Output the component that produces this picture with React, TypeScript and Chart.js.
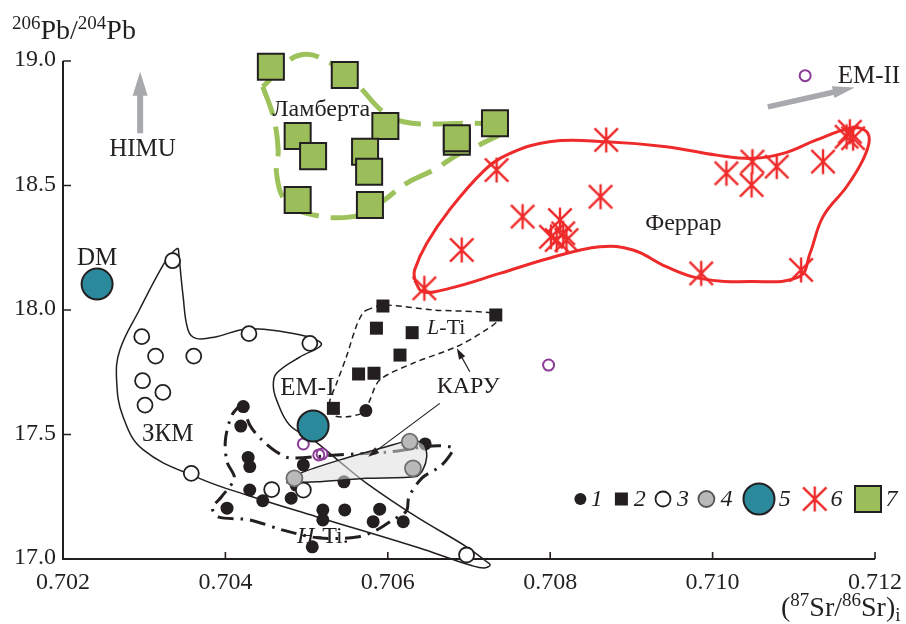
import { useEffect, useRef } from "react";
import { Chart, registerables } from "chart.js";
Chart.register(...registerables);

type P = [number, number];

const X_MIN = 0.702;
const X_MAX = 0.712;
const Y_MIN = 17.0;
const Y_MAX = 19.0;
const xTicks = [0.702, 0.704, 0.706, 0.708, 0.71, 0.712];
const xTickLabels = ["0.702", "0.704", "0.706", "0.708", "0.710", "0.712"];
const yTicks = [17.0, 17.5, 18.0, 18.5, 19.0];
const yTickLabels = ["17.0", "17.5", "18.0", "18.5", "19.0"];

// 1 – black dots
const blackDots: P[] = [
  [0.70573, 17.596], [0.70422, 17.612], [0.70419, 17.534], [0.70428, 17.408],
  [0.7043, 17.371], [0.70496, 17.378], [0.70487, 17.297], [0.7043, 17.277],
  [0.70446, 17.234], [0.70481, 17.244], [0.70402, 17.204], [0.7052, 17.197],
  [0.70547, 17.197], [0.7059, 17.2], [0.7052, 17.157], [0.70582, 17.15],
  [0.70619, 17.15], [0.70646, 17.462], [0.70507, 17.049], [0.70546, 17.31],
];
// 2 – black squares
const blackSquares: P[] = [
  [0.70594, 18.016], [0.70586, 17.927], [0.7063, 17.909], [0.70615, 17.819],
  [0.70564, 17.743], [0.70583, 17.746], [0.70533, 17.605], [0.70733, 17.98],
];
// 3 – open circles
const openCircles: P[] = [
  [0.70335, 18.198], [0.70297, 17.893], [0.70314, 17.815], [0.70361, 17.815],
  [0.70298, 17.716], [0.70323, 17.669], [0.70301, 17.618], [0.70429, 17.905],
  [0.70504, 17.866], [0.70358, 17.344], [0.70457, 17.279], [0.70496, 17.277],
  [0.70697, 17.016],
];
// 4 – grey circles
const greyCircles: P[] = [
  [0.70485, 17.324], [0.70627, 17.471], [0.70631, 17.364],
];
// 5 – mantle components (DM, EM-I)
const mantle: P[] = [
  [0.70242, 18.104], [0.70508, 17.534],
];
// purple small circles
const purpleCircles: P[] = [
  [0.70496, 17.462], [0.70515, 17.418], [0.70519, 17.422], [0.70798, 17.779], [0.71114, 18.941],
];
// 6 – Ferrar
const ferrar: P[] = [
  [0.70645, 18.087], [0.70691, 18.241], [0.70734, 18.562], [0.70766, 18.375],
  [0.70869, 18.683], [0.70862, 18.455], [0.70812, 18.361], [0.70816, 18.308],
  [0.70808, 18.281], [0.70801, 18.294], [0.7082, 18.281], [0.70986, 18.147],
  [0.71109, 18.161], [0.71017, 18.549], [0.71049, 18.596], [0.71048, 18.502],
  [0.71079, 18.576], [0.71136, 18.596], [0.71165, 18.696], [0.71169, 18.716],
  [0.71173, 18.69],
];
// 7 – Lambert
const lambert: P[] = [
  [0.70456, 18.977], [0.70547, 18.944], [0.70597, 18.739], [0.70489, 18.699],
  [0.70508, 18.618], [0.70572, 18.636], [0.70577, 18.555], [0.70685, 18.676],
  [0.70685, 18.69], [0.70732, 18.75], [0.70489, 18.442], [0.70578, 18.422],
];

// field outlines
const zkmField: P[] = [
  [0.70342, 18.248], [0.70348, 18.053], [0.70354, 17.92], [0.70364, 17.886],
  [0.70389, 17.893], [0.70426, 17.924], [0.70471, 17.913], [0.70508, 17.886],
  [0.70518, 17.859], [0.70492, 17.812], [0.70463, 17.746], [0.70459, 17.699],
  [0.70463, 17.639], [0.70479, 17.538], [0.70508, 17.478], [0.70541, 17.39],
  [0.70574, 17.304], [0.70635, 17.17], [0.70697, 17.049], [0.70719, 16.996],
  [0.70726, 16.976], [0.70718, 16.964], [0.70701, 16.976], [0.70682, 16.996],
  [0.70639, 17.044], [0.70512, 17.17], [0.7043, 17.253], [0.70368, 17.324],
  [0.70299, 17.438], [0.70274, 17.571], [0.70266, 17.719], [0.7027, 17.839],
  [0.70294, 18.0], [0.70327, 18.201], [0.70338, 18.241], [0.70342, 18.248],
];
const lowTiField: P[] = [
  [0.70574, 18.0], [0.70594, 18.02], [0.70656, 18.0], [0.7073, 17.987],
  [0.70736, 17.96], [0.70721, 17.92], [0.70685, 17.853], [0.70631, 17.786],
  [0.7059, 17.719], [0.70578, 17.639], [0.70572, 17.592], [0.70549, 17.571],
  [0.70533, 17.578], [0.70528, 17.625], [0.70537, 17.706], [0.70549, 17.812],
  [0.70561, 17.933], [0.70569, 17.987], [0.70574, 18.0],
];
const highTiField: P[] = [
  [0.70421, 17.627], [0.70408, 17.578], [0.704, 17.478], [0.70402, 17.39],
  [0.70411, 17.325], [0.70395, 17.249], [0.70384, 17.205], [0.70391, 17.169],
  [0.7043, 17.157], [0.70471, 17.116], [0.70516, 17.084], [0.70562, 17.088],
  [0.70586, 17.116], [0.70606, 17.157], [0.70623, 17.193], [0.70626, 17.249],
  [0.70642, 17.325], [0.70664, 17.37], [0.70675, 17.41], [0.7068, 17.446],
  [0.70655, 17.454], [0.70602, 17.43], [0.70537, 17.418], [0.70479, 17.406],
  [0.70463, 17.43], [0.70445, 17.478], [0.7043, 17.538], [0.70421, 17.627],
];
const karooField: P[] = [
  [0.70475, 17.306], [0.70492, 17.344], [0.70541, 17.398], [0.70598, 17.451],
  [0.70631, 17.478], [0.70645, 17.458], [0.70648, 17.411], [0.70643, 17.357],
  [0.70635, 17.331], [0.70574, 17.324], [0.70512, 17.31], [0.70475, 17.306],
];
const ferrarField: P[] = [
  [0.70633, 18.12], [0.70643, 18.073], [0.70676, 18.087], [0.70738, 18.147],
  [0.70799, 18.208], [0.70861, 18.254], [0.70902, 18.241], [0.70943, 18.174],
  [0.70984, 18.127], [0.71046, 18.114], [0.71107, 18.134], [0.7112, 18.228],
  [0.71136, 18.375], [0.71165, 18.495], [0.71185, 18.602], [0.71193, 18.683],
  [0.71187, 18.723], [0.71169, 18.73], [0.71128, 18.683], [0.71087, 18.629],
  [0.7105, 18.609], [0.71005, 18.622], [0.70943, 18.656], [0.70869, 18.676],
  [0.70799, 18.676], [0.70746, 18.622], [0.70717, 18.555], [0.70676, 18.402],
  [0.70648, 18.268], [0.70633, 18.161], [0.70633, 18.12],
];
const lambertField: P[] = [
  [0.70446, 18.897], [0.70459, 18.776], [0.70465, 18.643], [0.70463, 18.549],
  [0.70473, 18.442], [0.705, 18.388], [0.70557, 18.375], [0.7059, 18.429],
  [0.70623, 18.509], [0.70656, 18.562], [0.70689, 18.629], [0.70713, 18.663],
  [0.7075, 18.736], [0.70705, 18.75], [0.70664, 18.747], [0.70619, 18.756],
  [0.70594, 18.796], [0.70565, 18.897], [0.70541, 18.971], [0.70492, 19.024],
  [0.70446, 18.897],
];

// text labels [x, y]
const labelText = ["DM", "EM-I", "ЗКМ", "Ламберта", "Феррар", "КАРУ", "HIMU", "EM-II"];
const labelPos: P[] = [
  [0.70242, 18.209], [0.70501, 17.683], [0.70329, 17.502], [0.70518, 18.803],
  [0.70964, 18.348], [0.70699, 17.692], [0.70298, 18.645], [0.71154, 18.936],
];
const labelSize = [25, 25, 25, 24, 24, 24, 25, 25];
// arrows: [fromX, fromY, toX, toY]
const bigArrows: [number, number, number, number][] = [
  [0.70295, 18.71, 0.70295, 18.957],
  [0.71068, 18.816, 0.71175, 18.894],
];
const thinArrows: [number, number, number, number][] = [
  [0.70701, 17.752, 0.70685, 17.846],
  [0.70664, 17.625, 0.70576, 17.411],
];

const SERIF = "'Liberation Serif', 'DejaVu Serif', serif";
const INK = "#231f20";
const RED = "#ee2a2a";
const TEAL = "#2b899c";
const GREEN = "#9bbd5a";
const GREEN_LINE = "#9dc25c";
const PURPLE = "#8a3b95";

const pts = (a: P[]) => a.map(([x, y]) => ({ x, y }));

function makeAsterisk(): HTMLCanvasElement {
  const c = document.createElement("canvas");
  c.width = 28;
  c.height = 28;
  const g = c.getContext("2d")!;
  g.strokeStyle = RED;
  g.lineWidth = 2.4;
  g.lineCap = "butt";
  g.beginPath();
  g.moveTo(14, 1.5);
  g.lineTo(14, 26.5);
  g.moveTo(2.3, 2.3);
  g.lineTo(25.7, 25.7);
  g.moveTo(25.7, 2.3);
  g.lineTo(2.3, 25.7);
  g.stroke();
  return c;
}

function drawRich(ctx: CanvasRenderingContext2D, segs: { t: string; font: string; dy?: number }[], x: number, y: number, align: "left" | "center") {
  let w = 0;
  for (const s of segs) {
    ctx.font = s.font;
    w += ctx.measureText(s.t).width;
  }
  let cx = align === "center" ? x - w / 2 : x;
  ctx.textAlign = "left";
  for (const s of segs) {
    ctx.font = s.font;
    ctx.fillText(s.t, cx, y + (s.dy || 0));
    cx += ctx.measureText(s.t).width;
  }
}

function filledArrow(ctx: CanvasRenderingContext2D, x1: number, y1: number, x2: number, y2: number, shaft: number, headL: number, headW: number, color: string) {
  const ang = Math.atan2(y2 - y1, x2 - x1);
  const len = Math.hypot(x2 - x1, y2 - y1);
  ctx.save();
  ctx.translate(x1, y1);
  ctx.rotate(ang);
  ctx.fillStyle = color;
  ctx.beginPath();
  ctx.moveTo(0, -shaft / 2);
  ctx.lineTo(len - headL, -shaft / 2);
  ctx.lineTo(len - headL, -headW / 2);
  ctx.lineTo(len, 0);
  ctx.lineTo(len - headL, headW / 2);
  ctx.lineTo(len - headL, shaft / 2);
  ctx.lineTo(0, shaft / 2);
  ctx.closePath();
  ctx.fill();
  ctx.restore();
}

function thinArrow(ctx: CanvasRenderingContext2D, x1: number, y1: number, x2: number, y2: number) {
  const ang = Math.atan2(y2 - y1, x2 - x1);
  const len = Math.hypot(x2 - x1, y2 - y1);
  ctx.save();
  ctx.translate(x1, y1);
  ctx.rotate(ang);
  ctx.strokeStyle = INK;
  ctx.fillStyle = INK;
  ctx.lineWidth = 1.2;
  ctx.beginPath();
  ctx.moveTo(0, 0);
  ctx.lineTo(len - 8, 0);
  ctx.stroke();
  ctx.beginPath();
  ctx.moveTo(len, 0);
  ctx.lineTo(len - 11, -3.5);
  ctx.lineTo(len - 11, 3.5);
  ctx.closePath();
  ctx.fill();
  ctx.restore();
}

export default function App() {
  const ref = useRef<HTMLCanvasElement | null>(null);

  useEffect(() => {
    if (!ref.current) return;
    const asterisk = makeAsterisk();

    const axesPlugin = {
      id: "axesDecor",
      beforeDatasetsDraw(chart: any) {
        const { ctx, chartArea } = chart;
        const xs = chart.scales.x;
        const ys = chart.scales.y;
        ctx.save();
        ctx.strokeStyle = INK;
        ctx.lineWidth = 2;
        ctx.beginPath();
        ctx.moveTo(chartArea.left, ys.getPixelForValue(Y_MAX));
        ctx.lineTo(chartArea.left, chartArea.bottom);
        ctx.lineTo(xs.getPixelForValue(X_MAX), chartArea.bottom);
        ctx.stroke();
        ctx.lineWidth = 1.6;
        ctx.beginPath();
        for (const v of xTicks) {
          const px = xs.getPixelForValue(v);
          ctx.moveTo(px, chartArea.bottom);
          ctx.lineTo(px, chartArea.bottom - 7);
        }
        for (const v of yTicks) {
          const py = ys.getPixelForValue(v);
          ctx.moveTo(chartArea.left, py);
          ctx.lineTo(chartArea.left + 8, py);
        }
        ctx.stroke();
        ctx.restore();
      },
      afterDatasetsDraw(chart: any) {
        const { ctx, chartArea } = chart;
        const xs = chart.scales.x;
        const ys = chart.scales.y;
        const X = (v: number) => xs.getPixelForValue(v);
        const Y = (v: number) => ys.getPixelForValue(v);
        ctx.save();
        ctx.fillStyle = INK;
        // tick labels
        ctx.font = `24px ${SERIF}`;
        ctx.textAlign = "center";
        ctx.textBaseline = "alphabetic";
        xTicks.forEach((v, i) => ctx.fillText(xTickLabels[i], X(v), chartArea.bottom + 30));
        ctx.textAlign = "right";
        ctx.textBaseline = "middle";
        yTicks.forEach((v, i) => ctx.fillText(yTickLabels[i], chartArea.left - 7, Y(v) - 1));
        // axis titles
        ctx.textBaseline = "alphabetic";
        const big = `28px ${SERIF}`;
        const small = `19px ${SERIF}`;
        drawRich(ctx, [
          { t: "206", font: small, dy: -10 },
          { t: "Pb/", font: big },
          { t: "204", font: small, dy: -10 },
          { t: "Pb", font: big },
        ], 12, 39, "left");
        drawRich(ctx, [
          { t: "(", font: big },
          { t: "87", font: small, dy: -10 },
          { t: "Sr/", font: big },
          { t: "86", font: small, dy: -10 },
          { t: "Sr)", font: big },
          { t: "i", font: small, dy: 5 },
        ], 781, 616, "left");

        // arrows
        bigArrows.forEach(([a, b, c, d], i) => {
          if (i === 0) filledArrow(ctx, X(a), Y(b), X(c), Y(d), 6, 24, 15, "#a7a9ac");
          else filledArrow(ctx, X(a), Y(b), X(c), Y(d), 5.5, 22, 12, "#a7a9ac");
        });
        thinArrows.forEach(([a, b, c, d]) => thinArrow(ctx, X(a), Y(b), X(c), Y(d)));

        // labels
        ctx.fillStyle = INK;
        ctx.textBaseline = "middle";
        labelText.forEach((t, i) => {
          ctx.font = `${labelSize[i]}px ${SERIF}`;
          ctx.textAlign = t === "EM-II" ? "left" : "center";
          ctx.fillText(t, X(labelPos[i][0]), Y(labelPos[i][1]));
        });
        drawRich(ctx, [
          { t: "L", font: `italic 22px ${SERIF}` },
          { t: "-Ti", font: `22px ${SERIF}` },
        ], X(0.70672), Y(17.926), "center");
        drawRich(ctx, [
          { t: "H", font: `italic 24px ${SERIF}` },
          { t: "-Ti.", font: `24px ${SERIF}` },
        ], X(0.7052), Y(17.09), "center");

        // legend
        const ly = chartArea.bottom - 60;
        const r0 = chartArea.right;
        const num = (t: string, x: number) => {
          ctx.font = `italic 24px ${SERIF}`;
          ctx.textAlign = "center";
          ctx.textBaseline = "middle";
          ctx.fillStyle = INK;
          ctx.fillText(t, x, ly + 1);
        };
        // 1
        ctx.fillStyle = INK;
        ctx.beginPath(); ctx.arc(r0 - 294.6, ly, 6, 0, Math.PI * 2); ctx.fill();
        num("1", r0 - 278.3);
        // 2
        ctx.fillStyle = INK;
        ctx.fillRect(r0 - 253.6 - 6.5, ly - 6.5, 13, 13);
        num("2", r0 - 235.3);
        // 3
        ctx.beginPath(); ctx.arc(r0 - 212, ly, 7.5, 0, Math.PI * 2);
        ctx.fillStyle = "#fff"; ctx.fill(); ctx.strokeStyle = INK; ctx.lineWidth = 1.8; ctx.stroke();
        num("3", r0 - 192);
        // 4
        ctx.beginPath(); ctx.arc(r0 - 168.6, ly, 8, 0, Math.PI * 2);
        ctx.fillStyle = "#b9b9b9"; ctx.fill(); ctx.strokeStyle = "#555"; ctx.lineWidth = 1.8; ctx.stroke();
        num("4", r0 - 148.6);
        // 5
        ctx.beginPath(); ctx.arc(r0 - 116, ly, 15.5, 0, Math.PI * 2);
        ctx.fillStyle = TEAL; ctx.fill(); ctx.strokeStyle = INK; ctx.lineWidth = 2; ctx.stroke();
        num("5", r0 - 90.3);
        // 6
        ctx.drawImage(asterisk, r0 - 60.3 - 14, ly - 14);
        num("6", r0 - 38.6);
        // 7
        ctx.fillStyle = GREEN;
        ctx.fillRect(r0 - 7 - 13, ly - 13, 26, 26);
        ctx.strokeStyle = INK; ctx.lineWidth = 2;
        ctx.strokeRect(r0 - 7 - 13, ly - 13, 26, 26);
        num("7", r0 + 16.4);
        ctx.restore();
      },
    };

    const outline = (data: P[], color: string, width: number, dash: number[], order: number, tension = 0.4) => ({
      data: pts(data),
      showLine: true,
      borderColor: color,
      borderWidth: width,
      borderDash: dash,
      pointRadius: 0,
      tension,
      fill: false,
      clip: false as const,
      order,
    });

    const chart = new Chart(ref.current, {
      type: "scatter",
      data: {
        datasets: [
          outline(zkmField, INK, 1.5, [], 20),
          outline(lowTiField, INK, 1.5, [6, 4], 20, 0.3),
          outline(highTiField, INK, 3, [16, 7, 2.5, 7], 20, 0.3),
          outline(ferrarField, RED, 3, [], 20),
          outline(lambertField, GREEN_LINE, 5, [30, 12], 20),
          {
            data: pts(blackDots),
            pointRadius: 6.5,
            pointBackgroundColor: INK,
            pointBorderColor: INK,
            pointBorderWidth: 0,
            clip: false as const,
            order: 8,
          },
          {
            data: pts(karooField),
            showLine: true,
            borderColor: INK,
            borderWidth: 1.5,
            backgroundColor: "rgba(222,222,222,0.55)",
            fill: "shape",
            pointRadius: 0,
            tension: 0.25,
            clip: false as const,
            order: 6,
          },
          {
            data: pts(blackSquares),
            pointStyle: "rect",
            pointRadius: 9.2,
            pointBackgroundColor: INK,
            pointBorderWidth: 0,
            clip: false as const,
            order: 5,
          },
          {
            data: pts(openCircles),
            pointRadius: 7.5,
            pointBackgroundColor: "#ffffff",
            pointBorderColor: INK,
            pointBorderWidth: 1.8,
            clip: false as const,
            order: 5,
          },
          {
            data: pts(greyCircles),
            pointRadius: 8,
            pointBackgroundColor: "#b9b9b9",
            pointBorderColor: "#6d6d6d",
            pointBorderWidth: 1.8,
            clip: false as const,
            order: 4,
          },
          {
            data: pts(purpleCircles),
            pointRadius: 5.5,
            pointBackgroundColor: "rgba(0,0,0,0)",
            pointBorderColor: PURPLE,
            pointBorderWidth: 2,
            clip: false as const,
            order: 3,
          },
          {
            data: pts(mantle),
            pointRadius: 15.5,
            pointBackgroundColor: TEAL,
            pointBorderColor: INK,
            pointBorderWidth: 2,
            clip: false as const,
            order: 2,
          },
          {
            data: pts(ferrar),
            pointStyle: asterisk,
            pointRadius: 12,
            clip: false as const,
            order: 1,
          },
          {
            data: pts(lambert),
            pointStyle: "rect",
            pointRadius: 18.4,
            pointBackgroundColor: GREEN,
            pointBorderColor: INK,
            pointBorderWidth: 2,
            clip: false as const,
            order: 1,
          },
        ] as any,
      },
      options: {
        responsive: false,
        animation: false,
        events: [],
        layout: { padding: { top: 61, right: 31, left: 0, bottom: 0 } },
        scales: {
          x: {
            type: "linear",
            min: X_MIN,
            max: X_MAX,
            grid: { display: false },
            border: { display: false },
            ticks: { display: false },
            afterFit: (s: any) => { s.height = 65; },
          },
          y: {
            type: "linear",
            min: Y_MIN,
            max: Y_MAX,
            grid: { display: false },
            border: { display: false },
            ticks: { display: false },
            afterFit: (s: any) => { s.width = 63; },
          },
        },
        plugins: {
          legend: { display: false },
          tooltip: { enabled: false },
        },
      } as any,
      plugins: [axesPlugin],
    });
    return () => chart.destroy();
  }, []);

  return (
    <div style={{ position: "fixed", left: 0, top: 0, width: 906, height: 624, background: "#fff" }}>
      <canvas ref={ref} width={906} height={624} style={{ display: "block", width: 906, height: 624 }} />
    </div>
  );
}
